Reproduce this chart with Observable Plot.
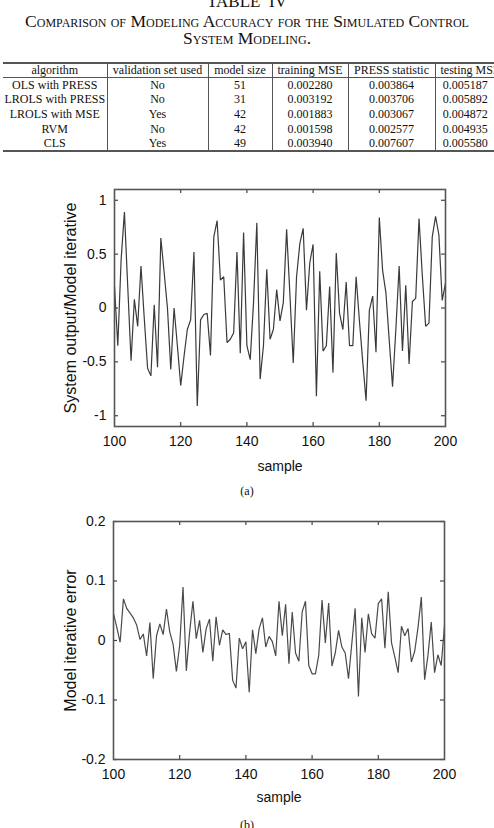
<!DOCTYPE html>
<html><head><meta charset="utf-8">
<script src="https://cdn.jsdelivr.net/npm/d3@7"></script>
<script src="https://cdn.jsdelivr.net/npm/@observablehq/plot@0.6"></script>
<style>
html,body{margin:0;padding:0;background:#fff;}
body{width:494px;height:828px;overflow:hidden;position:relative;font-family:"Liberation Serif",serif;color:#111;}
.cap{position:absolute;left:0;width:494px;text-align:center;font-family:"Liberation Serif",serif;white-space:nowrap;}
.sc{font-variant:small-caps;}
table{position:absolute;top:62px;left:3px;border-collapse:collapse;table-layout:fixed;font:12px "Liberation Serif",serif;color:#111;}
td,th{padding:0;text-align:center;font-weight:normal;white-space:nowrap;border-left:1px solid #555;line-height:13px;}
td:first-child,th:first-child{border-left:none;}
th:last-child{text-align:left;padding-left:5px;}
thead tr{border-top:2px solid #555;border-bottom:1px solid #555;height:14px;}
tbody tr{height:14.8px;}
tbody tr:last-child{border-bottom:2px solid #555;}
.chart{position:absolute;left:0;}
</style></head><body>
<div class="cap" style="top:-7.5px;font-size:17px;line-height:17px;">TABLE&nbsp;&nbsp;IV</div>
<div class="cap sc" style="top:12.5px;font-size:17.5px;line-height:17px;">Comparison of Modeling Accuracy for the Simulated Control</div>
<div class="cap sc" style="top:30px;font-size:17.5px;line-height:17px;">System Modeling.</div>
<div id="tbl"></div>
<div id="ca" class="chart" style="top:170px;"></div>
<div class="cap" style="top:484px;font-size:12px;line-height:14px;">(a)</div>
<div id="cb" class="chart" style="top:505px;"></div>
<div class="cap" style="top:818px;font-size:12px;line-height:14px;">(b)</div>
<script>
// ---- table data ----
const columns = ["algorithm", "validation set used", "model size", "training MSE", "PRESS statistic", "testing MSE"];
const columnWidths = [104, 101, 64, 76, 87, 60];
const algorithms = ["OLS with PRESS", "LROLS with PRESS", "LROLS with MSE", "RVM", "CLS"];
const validationSetUsed = ["No", "No", "Yes", "No", "Yes"];
const modelSize = [51, 31, 42, 42, 49];
const trainingMSE = ["0.002280", "0.003192", "0.001883", "0.001598", "0.003940"];
const pressStatistic = ["0.003864", "0.003706", "0.003067", "0.002577", "0.007607"];
const testingMSE = ["0.005187", "0.005892", "0.004872", "0.004935", "0.005580"];

// ---- chart data ----
const sampleStart = 100, sampleEnd = 200;
const xTicks = [100, 120, 140, 160, 180, 200];
const yTicksA = [-1, -0.5, 0, 0.5, 1];
const yTicksB = [-0.2, -0.1, 0, 0.1, 0.2];
const systemOutput = [
 0.2, -0.35, 0.45, 0.89, 0.2, -0.49, 0.08, -0.17, 0.39, -0.1,
 -0.56, -0.63, 0.03, -0.55, 0.65, 0.33, 0.0, -0.57, 0.0, -0.35,
 -0.72, -0.45, -0.2, -0.11, 0.52, -0.91, -0.11, -0.06, -0.05, -0.44,
 0.66, 0.81, 0.26, 0.29, -0.32, -0.29, -0.23, 0.52, -0.42, 0.70,
 -0.35, -0.48, 0.05, 0.79, -0.66, -0.35, 0.36, -0.29, -0.2, 0.17,
 -0.12, 0.05, 0.73, 0.12, -0.51, 0.29, 0.60, 0.74, -0.02, 0.42,
 0.59, -0.82, 0.34, -0.40, -0.35, 0.2, -0.6, 0.51, -0.05, -0.2,
 0.24, -0.35, -0.35, 0.29, -0.12, -0.5, -0.86, -0.02, 0.11, -0.41,
 0.84, 0.35, 0.14, -0.3, -0.73, -0.2, 0.39, -0.40, 0.21, -0.52,
 0.06, 0.09, 0.83, 0.3, -0.17, -0.14, 0.66, 0.85, 0.68, 0.07,
 0.23];
const iterativeError = [
 0.045, 0.022, -0.003, 0.07, 0.054, 0.046, 0.038, 0.026, 0.002, 0.011,
 -0.026, 0.03, -0.064, 0.008, 0.028, 0.01, 0.053, 0.014, -0.006, -0.052,
 -0.008, 0.09, -0.051, 0.014, 0.066, 0.003, 0.034, -0.02, 0.02, 0.036,
 -0.035, 0.04, -0.008, 0.018, 0.01, 0.012, -0.067, -0.08, 0.004, -0.014,
 -0.002, -0.087, 0.018, -0.022, 0.02, 0.038, -0.011, 0.007, -0.002, -0.026,
 0.066, 0.008, 0.061, -0.039, 0.048, -0.021, -0.035, 0.048, 0.066, -0.042,
 -0.056, -0.056, -0.025, 0.068, -0.004, 0.063, -0.043, -0.021, 0.017, -0.011,
 -0.021, -0.064, -0.005, 0.054, -0.094, 0.038, -0.02, 0.045, 0.011, 0.004,
 0.062, 0.07, -0.013, 0.082, -0.004, -0.028, -0.054, 0.024, 0.008, 0.02,
 -0.036, -0.018, 0.022, 0.073, -0.066, -0.025, 0.031, -0.054, -0.024, -0.042,
 0.025];

// ---- build table ----
const tbl = d3.select("#tbl").append("table");
const cg = tbl.append("colgroup");
columnWidths.forEach(w => cg.append("col").style("width", w + "px"));
tbl.style("width", d3.sum(columnWidths) + "px");
tbl.append("thead").append("tr").selectAll("th").data(columns).join("th").text(d => d);
const rows = algorithms.map((a, i) => [a, validationSetUsed[i], modelSize[i], trainingMSE[i], pressStatistic[i], testingMSE[i]]);
tbl.append("tbody").selectAll("tr").data(rows).join("tr")
  .selectAll("td").data(d => d).join("td").text(d => d);

// ---- charts ----
const samples = d3.range(sampleStart, sampleEnd + 1);
function lineChart({values, yDomain, yTicks, yLabel, height, margins, stroke, labelDy, labelDx}) {
  const data = samples.map((s, i) => ({sample: s, value: values[i]}));
  const [mt, mr, mb, ml] = margins;
  const innerH = height - mt - mb, innerW = 494 - ml - mr, t = 4;
  return Plot.plot({
    width: 494, height,
    marginTop: mt, marginRight: mr, marginBottom: mb, marginLeft: ml,
    style: {fontFamily: "'Liberation Sans', Arial, sans-serif", fontSize: "14px", color: "#111", background: "transparent", overflow: "visible"},
    x: {domain: [sampleStart, sampleEnd]},
    y: {domain: yDomain},
    marks: [
      Plot.line(data, {x: "sample", y: "value", stroke, strokeWidth: 1.2, strokeLinejoin: "miter"}),
      Plot.ruleX(xTicks.slice(1, -1), {x: d => d, insetTop: innerH - t, stroke: "#444", strokeWidth: 1.2}),
      Plot.ruleX(xTicks.slice(1, -1), {x: d => d, insetBottom: innerH - t, stroke: "#444", strokeWidth: 1.2}),
      Plot.ruleY(yTicks, {y: d => d, insetRight: innerW - t, stroke: "#444", strokeWidth: 1.2}),
      Plot.ruleY(yTicks, {y: d => d, insetLeft: innerW - t, stroke: "#444", strokeWidth: 1.2}),
      Plot.frame({stroke: "#555", strokeWidth: 1.6}),
      Plot.axisX({ticks: xTicks, tickSize: 0, tickPadding: 10, tickFormat: d => String(d), label: null}),
      Plot.axisY({ticks: yTicks, tickSize: 0, tickPadding: 8, tickFormat: d => String(d), label: null}),
      Plot.text(["sample"], {frameAnchor: "bottom", textAnchor: "middle", lineAnchor: "middle", dy: labelDy, fontSize: 14, fill: "#111"}),
      Plot.text([yLabel], {frameAnchor: "left", textAnchor: "middle", lineAnchor: "middle", rotate: -90, dx: labelDx, fontSize: 16, fill: "#111"})
    ]
  });
}

document.getElementById("ca").append(lineChart({
  values: systemOutput, yDomain: [-1.1, 1.1], yTicks: yTicksA,
  yLabel: "System output/Model iterative", height: 310, margins: [19, 49, 54, 114],
  stroke: "#3a3a3a", labelDy: 40, labelDx: -44
}));
document.getElementById("cb").append(lineChart({
  values: iterativeError, yDomain: [-0.2, 0.2], yTicks: yTicksB,
  yLabel: "Model iterative error", height: 300, margins: [16, 50, 46, 113],
  stroke: "#4a4a4a", labelDy: 38, labelDx: -43
}));
</script>
</body></html>
